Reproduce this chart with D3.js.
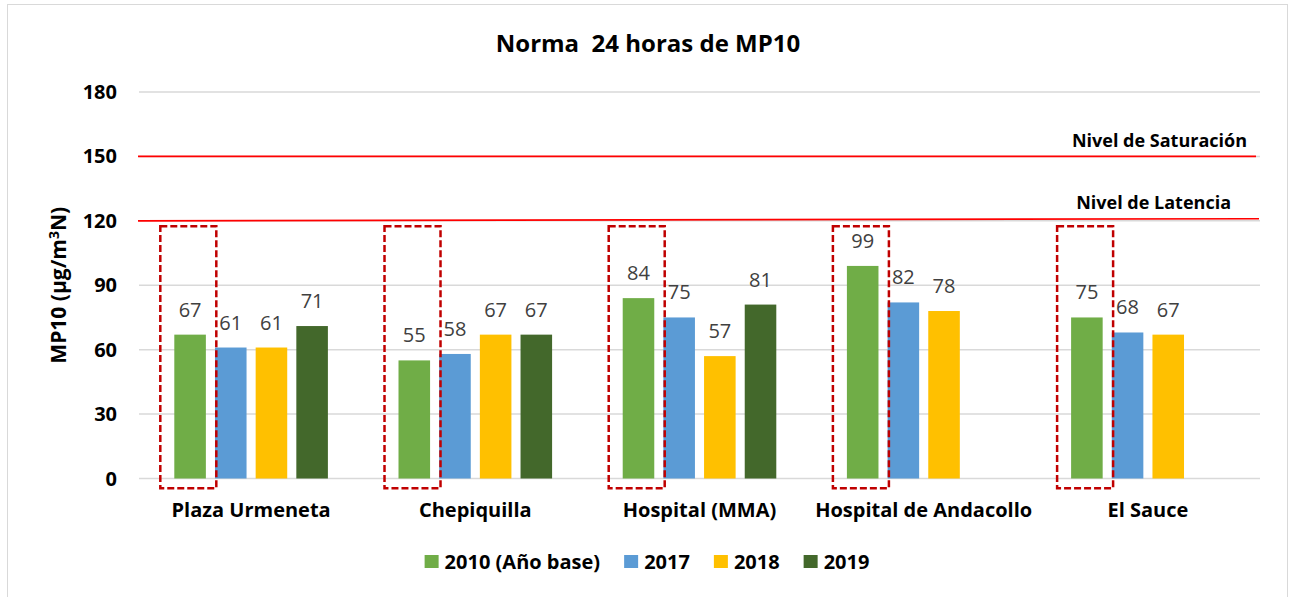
<!DOCTYPE html>
<html>
<head>
<meta charset="utf-8">
<script src="https://cdn.jsdelivr.net/npm/d3@7"></script>
<style>
  body { margin: 0; background: #fff; }
  svg text { font-family: "Open Sans", Lato, sans-serif; }
</style>
</head>
<body>
<div id="chart"></div>
<script>
// data
let stations = ['Plaza Urmeneta', 'Chepiquilla', 'Hospital (MMA)', 'Hospital de Andacollo', 'El Sauce'];
let years = ['2010 (Año base)', '2017', '2018', '2019'];
let values2010 = [67, 55, 84, 99, 75];
let values2017 = [61, 58, 75, 82, 68];
let values2018 = [61, 67, 57, 78, 67];
let values2019 = [71, 67, 81, null, null];
let yTicks = [0, 30, 60, 90, 120, 150, 180];
let saturacion = [150, 150];   // left, right end
let latencia = [120, 121];
let colors = ['#70ad47', '#5b9bd5', '#ffc000', '#43682b'];

let series = [values2010, values2017, values2018, values2019];

let width = 1289, height = 597;
let margin = {top: 92, right: 29, bottom: 118.5, left: 139};

let svg = d3.select('#chart').append('svg')
    .attr('width', width)
    .attr('height', height);

// chart frame
svg.append('rect')
    .attr('x', 7.5).attr('y', 4.5)
    .attr('width', 1280).attr('height', 600)
    .attr('fill', '#fff')
    .attr('stroke', '#d9d9d9')
    .attr('stroke-width', 1);

let x0 = d3.scaleBand()
    .domain(stations)
    .range([margin.left, width - margin.right]);

let x1 = d3.scaleBand()
    .domain(d3.range(years.length))
    .range([0, x0.bandwidth()])
    .paddingInner(0.224)
    .paddingOuter(0.868);

let y = d3.scaleLinear()
    .domain([0, 180])
    .range([height - margin.bottom, margin.top]);

// gridlines
svg.append('g')
    .selectAll('line')
    .data(yTicks)
    .enter()
    .append('line')
    .attr('x1', margin.left)
    .attr('x2', width - margin.right)
    .attr('y1', d => y(d))
    .attr('y2', d => y(d))
    .attr('stroke', '#d9d9d9')
    .attr('stroke-width', 1.5);

// y axis tick labels
svg.append('g')
    .selectAll('text')
    .data(yTicks)
    .enter()
    .append('text')
    .attr('x', 117)
    .attr('y', d => y(d) + 7)
    .attr('text-anchor', 'end')
    .attr('font-size', 20)
    .attr('font-weight', 'bold')
    .attr('fill', '#000')
    .text(d => d);

// threshold lines
let lineEnd = width - margin.right - 4;
svg.append('line')
    .attr('x1', margin.left - 1).attr('x2', lineEnd)
    .attr('y1', y(saturacion[0])).attr('y2', y(saturacion[1]))
    .attr('stroke', '#ff0000').attr('stroke-width', 1.6);
svg.append('line')
    .attr('x1', margin.left - 1).attr('x2', lineEnd + 3)
    .attr('y1', y(latencia[0])).attr('y2', y(latencia[1]))
    .attr('stroke', '#ff0000').attr('stroke-width', 1.6);

svg.append('text')
    .attr('x', 1247).attr('y', y(saturacion[1]) - 9)
    .attr('text-anchor', 'end')
    .attr('font-size', 18).attr('font-weight', 'bold')
    .text('Nivel de Saturación');
svg.append('text')
    .attr('x', 1231).attr('y', y(latencia[1]) - 10)
    .attr('text-anchor', 'end')
    .attr('font-size', 18).attr('font-weight', 'bold')
    .text('Nivel de Latencia');

// bars
let groups = svg.append('g')
    .selectAll('g')
    .data(stations)
    .enter()
    .append('g')
    .attr('transform', d => 'translate(' + x0(d) + ',0)');

groups.each(function(station, i) {
    let g = d3.select(this);
    let rows = series.map((s, j) => ({j: j, v: s[i]})).filter(d => d.v != null);

    g.selectAll('rect')
        .data(rows)
        .enter()
        .append('rect')
        .attr('x', d => x1(d.j))
        .attr('y', d => y(d.v))
        .attr('width', x1.bandwidth())
        .attr('height', d => y(0) - y(d.v))
        .attr('fill', d => colors[d.j]);

    g.selectAll('.val')
        .data(rows)
        .enter()
        .append('text')
        .attr('class', 'val')
        .attr('x', d => x1(d.j) + x1.bandwidth() / 2)
        .attr('y', d => y(d.v) - 18)
        .attr('text-anchor', 'middle')
        .attr('font-size', 20)
        .attr('fill', '#404040')
        .text(d => d.v);

    // dashed highlight round the base year bar
    g.append('rect')
        .attr('x', x1(0) - 14)
        .attr('y', y(117.5))
        .attr('width', 56)
        .attr('height', y(-4.5) - y(117.5))
        .attr('fill', 'none')
        .attr('stroke', '#c00000')
        .attr('stroke-width', 2.5)
        .attr('stroke-dasharray', '7,3');
});

// category labels
svg.append('g')
    .selectAll('text')
    .data(stations)
    .enter()
    .append('text')
    .attr('x', d => x0(d) + x0.bandwidth() / 2)
    .attr('y', 517)
    .attr('text-anchor', 'middle')
    .attr('font-size', 20)
    .attr('font-weight', 'bold')
    .text(d => d);

// title
svg.append('text')
    .attr('x', 648).attr('y', 52)
    .attr('text-anchor', 'middle')
    .attr('font-size', 24)
    .attr('font-weight', 'bold')
    .style('white-space', 'pre')
    .text('Norma  24 horas de MP10');

// y title
svg.append('text')
    .attr('transform', 'translate(66,' + ((y(0) + y(180)) / 2) + ') rotate(-90)')
    .attr('text-anchor', 'middle')
    .attr('font-size', 21)
    .attr('font-weight', 'bold')
    .html('MP10 (µg/m<tspan dy="-7" font-size="14">3</tspan><tspan dy="7">N)</tspan>');

// legend
let legend = svg.append('g');
let lx = 0;
years.forEach((yr, j) => {
    let item = legend.append('g').attr('transform', 'translate(' + lx + ',0)');
    item.append('rect')
        .attr('x', 0).attr('y', 555)
        .attr('width', 14).attr('height', 13)
        .attr('fill', colors[j]);
    let t = item.append('text')
        .attr('x', 20).attr('y', 569)
        .attr('font-size', 20)
        .attr('font-weight', 'bold')
        .text(yr);
    lx += 20 + t.node().getComputedTextLength() + 24;
});
lx -= 24;
legend.attr('transform', 'translate(' + (647 - lx / 2) + ',0)');
</script>
</body>
</html>
